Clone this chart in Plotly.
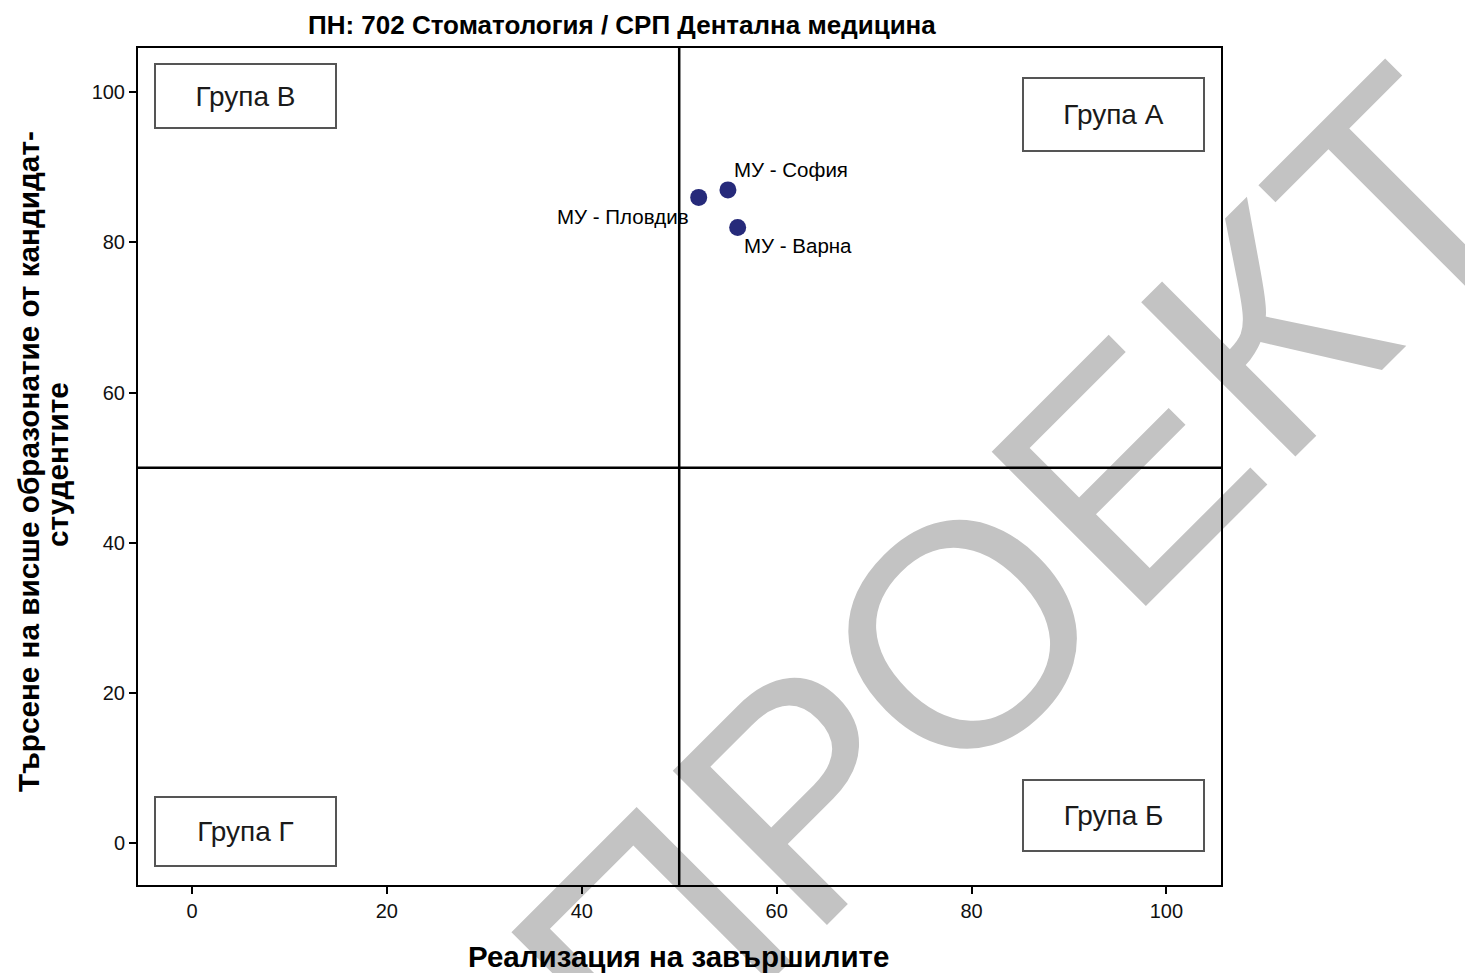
import plotly.graph_objects as go

names = ["МУ - Пловдив", "МУ - София", "МУ - Варна"]
x_vals = [52.0, 55.0, 56.0]
y_vals = [86.0, 87.0, 82.0]
label_xshift = [-8, 4, 4]
label_yshift = [-19, 20, -18]
label_anchor = ["right", "left", "left"]

groups = ["Група В", "Група А", "Група Б", "Група Г"]
group_x = [5.5, 94.6, 94.6, 5.5]
group_y = [99.5, 97.1, 3.7, 1.5]
group_h = [62, 71, 69, 67]

tick_vals = [0, 20, 40, 60, 80, 100]

W, H = 1466, 966
L, T, PW, PH = 130, 40, 1083, 837

def px(xp):
    return (xp - 7 - L) / PW

def py(yp):
    return 1 - (yp - 7 - T) / PH

fig = go.Figure()
fig.add_trace(go.Scatter(
    x=x_vals, y=y_vals, mode="markers",
    marker=dict(size=17, color="#262a7a"),
    showlegend=False, hoverinfo="skip"))

# watermark, drawn beneath everything
wx, wy = px(996), py(556)
fig.add_shape(type="rect", xref="paper", yref="paper",
              x0=wx - 0.02, x1=wx + 0.02, y0=wy - 0.02, y1=wy + 0.02,
              line=dict(width=0), fillcolor="rgba(0,0,0,0)", layer="below",
              label=dict(text="ПРОЕКТ", textangle=-45, textposition="middle center",
                         font=dict(family="Liberation Sans, Arial", size=317, color="#c3c3c3")))

fig.add_shape(type="line", x0=50, x1=50, y0=0, y1=1, xref="x", yref="paper",
              line=dict(color="black", width=2.5))
fig.add_shape(type="line", x0=0, x1=1, y0=50, y1=50, xref="paper", yref="y",
              line=dict(color="black", width=2.5))

for n, xv, yv, xs, ys, an in zip(names, x_vals, y_vals, label_xshift, label_yshift, label_anchor):
    fig.add_annotation(x=xv, y=yv, text=n, showarrow=False, xanchor=an, yanchor="middle",
                       xshift=xs, yshift=ys,
                       font=dict(family="Liberation Sans, Arial", size=20.5, color="black"))

for g, gx, gy, gh in zip(groups, group_x, group_y, group_h):
    fig.add_annotation(x=gx, y=gy, text=g, showarrow=False, xanchor="center", yanchor="middle",
                       width=179, height=gh, bordercolor="#555555", borderwidth=2, borderpad=0,
                       bgcolor="rgba(255,255,255,0)",
                       font=dict(family="Liberation Sans, Arial", size=28, color="#1a1a1a"))

# title
fig.add_annotation(x=px(621), y=py(24), xref="paper", yref="paper", yanchor="middle",
                   text="<b>ПН: 702 Стоматология / СРП Дентална медицина</b>", showarrow=False,
                   font=dict(family="Liberation Sans Narrow, Arial Narrow, Liberation Sans", size=26, color="black"))

# axis titles
fig.add_annotation(x=px(677), y=py(955), xref="paper", yref="paper", yanchor="middle",
                   text="<b>Реализация на завършилите</b>", showarrow=False,
                   font=dict(family="Liberation Sans, Arial", size=29.5, color="black"))
fig.add_annotation(x=px(27), y=py(461), xref="paper", yref="paper", xanchor="center", yanchor="middle",
                   text="<b>Търсене на висше образонатие от кандидат-</b>", showarrow=False, textangle=-90,
                   font=dict(family="Liberation Sans, Arial", size=29.7, color="black"))
fig.add_annotation(x=px(57), y=py(464), xref="paper", yref="paper", xanchor="center", yanchor="middle",
                   text="<b>студентите</b>", showarrow=False, textangle=-90,
                   font=dict(family="Liberation Sans, Arial", size=29.7, color="black"))

axis_common = dict(showline=True, linecolor="black", linewidth=2, mirror=True,
                   ticks="outside", ticklen=7, tickcolor="black", tickwidth=1.5,
                   showgrid=False, zeroline=False, tickvals=tick_vals,
                   tickfont=dict(family="Liberation Sans, Arial", size=20, color="#111111"))

fig.update_layout(
    width=W, height=H,
    margin=dict(l=L, r=W - L - PW, t=T, b=H - T - PH),
    paper_bgcolor="white", plot_bgcolor="white",
    xaxis=dict(range=[-5.54, 105.6], **axis_common),
    yaxis=dict(range=[-5.6, 105.9], **axis_common),
)

fig.write_html("out.html")
